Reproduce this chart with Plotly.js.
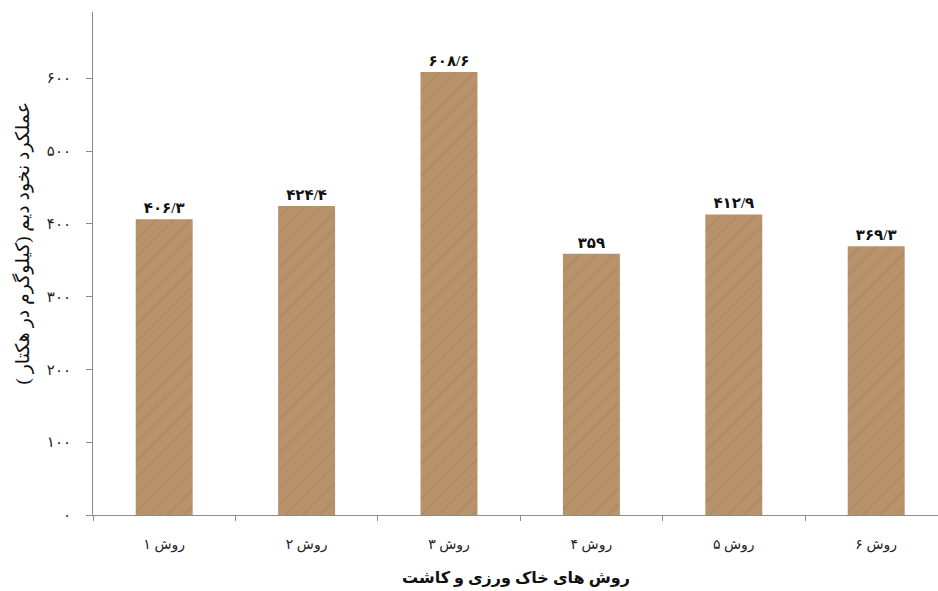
<!DOCTYPE html>
<html>
<head>
<meta charset="utf-8">
<script src="https://cdn.plot.ly/plotly-3.0.1.min.js"></script>
<style>html,body{margin:0;padding:0;background:#fff;}#chart{width:938px;height:591px;}</style>
</head>
<body>
<div id="chart"></div>
<script>
var categories = ["روش ۱", "روش ۲", "روش ۳", "روش ۴", "روش ۵", "روش ۶"];
var yieldValues = [406.3, 424.4, 608.6, 359, 412.9, 369.3];
var yTickValues = [0, 100, 200, 300, 400, 500, 600];
var yTickLabels = ["۰", "۱۰۰", "۲۰۰", "۳۰۰", "۴۰۰", "۵۰۰", "۶۰۰"];
var xTitle = "روش های خاک ورزی و کاشت";
var yTitle = "عملکرد نخود دیم (کیلوگرم در هکتار )";

function toFa(v) {
  var d = "۰۱۲۳۴۵۶۷۸۹";
  return String(v).replace(".", "/").replace(/[0-9]/g, function (c) { return d[+c]; });
}
var labels = yieldValues.map(toFa);

var font = "'Liberation Serif', 'DejaVu Sans', serif";

var trace = {
  type: "bar",
  x: categories,
  y: yieldValues,
  text: labels,
  textposition: "outside",
  cliponaxis: false,
  textfont: {family: font, size: 15, color: "#111", weight: "bold"},
  marker: {
    color: "#b8926a",
    line: {width: 0},
    pattern: {shape: "/", fgcolor: "#8a6640", bgcolor: "#b8926a", fgopacity: 0.22, size: 12, solidity: 0.12}
  },
  hoverinfo: "skip"
};

var layout = {
  width: 938,
  height: 591,
  margin: {l: 93, r: 0, t: 12, b: 76, pad: 0},
  paper_bgcolor: "#fff",
  plot_bgcolor: "#fff",
  bargap: 0.6,
  showlegend: false,
  font: {family: font, color: "#222"},
  xaxis: {
    type: "category",
    range: [-0.5, 5.434],
    showgrid: false,
    zeroline: false,
    showline: true,
    linecolor: "#8c8c8c",
    linewidth: 1,
    ticks: "outside",
    tickson: "boundaries",
    ticklen: 5,
    tickcolor: "#8c8c8c",
    tickfont: {family: font, size: 14, color: "#222"},
    ticklabelstandoff: 16,
    automargin: false,
    fixedrange: true
  },
  yaxis: {
    range: [0, 691],
    tickvals: yTickValues,
    ticktext: yTickLabels,
    showgrid: false,
    zeroline: false,
    showline: true,
    linecolor: "#8c8c8c",
    linewidth: 1,
    ticks: "outside",
    ticklen: 6,
    tickcolor: "#8c8c8c",
    tickfont: {family: font, size: 15, color: "#222"},
    ticklabelstandoff: 12,
    automargin: false,
    fixedrange: true
  },
  annotations: [
    {text: yTitle, xref: "paper", yref: "paper", x: -0.084, y: 0.54, xanchor: "center", yanchor: "middle",
     textangle: -90, showarrow: false, font: {family: font, size: 19, color: "#111"}},
    {text: xTitle, xref: "paper", yref: "paper", x: 0.5, y: -0.125, xanchor: "center", yanchor: "middle",
     showarrow: false, font: {family: font, size: 16, color: "#111", weight: "bold"}}
  ]
};

Plotly.newPlot("chart", [trace], layout, {displayModeBar: false, staticPlot: true});
</script>
</body>
</html>
